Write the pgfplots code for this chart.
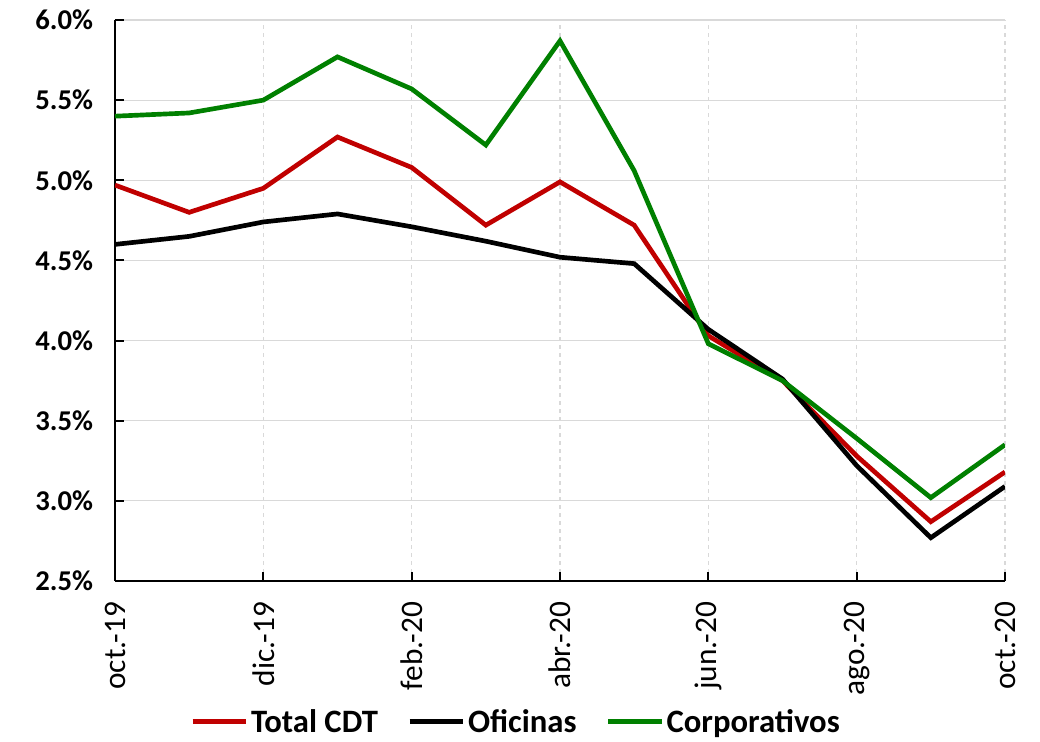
\documentclass[border=0pt]{standalone}
\usepackage{pgfplots}
\pgfplotsset{compat=1.18}
\usepackage{fontspec}
\setmainfont{Carlito}
\definecolor{cdtred}{RGB}{192,0,0}
\definecolor{cdtgreen}{RGB}{0,128,0}
\definecolor{gridgray}{RGB}{217,217,217}
\begin{document}
\begin{tikzpicture}
\useasboundingbox (-86.25pt,-120.75pt) rectangle (693.75pt,435.75pt);
\begin{axis}[
  at={(0,0)}, anchor=south west,
  scale only axis, width=667.5pt, height=420.75pt,
  xmin=0, xmax=12, ymin=2.5, ymax=6.0,
  axis lines=left, axis line style={-, line width=2pt},
  xtick={0,2,...,12},
  xticklabels={oct.-19,dic.-19,feb.-20,abr.-20,jun.-20,ago.-20,oct.-20},
  ytick={2.5,3,...,6},
  /pgf/number format/assume math mode=true,
  yticklabel={\pgfmathprintnumber[fixed,fixed zerofill,precision=1]{\tick}\%},
  tick align=inside, major tick length=7pt,
  tick style={black, line width=1.5pt},
  xticklabel shift=12pt,
  xticklabel style={rotate=90, anchor=east, font=\fontsize{23.5}{26}\selectfont},
  yticklabel style={xshift=-13pt, font=\fontsize{21.5}{24}\selectfont\bfseries},
  xmajorgrids, ymajorgrids,
  x grid style={gridgray, dashed, line width=0.8pt},
  y grid style={gridgray, line width=0.8pt},
  legend columns=3,
  legend style={at={(0.451,-0.251)}, anchor=center, draw=none,
    font=\fontsize{24.5}{27}\selectfont\bfseries,
    /tikz/every even column/.append style={column sep=20pt}},
  legend image code/.code={\draw[#1, line width=3.5pt] (0pt,0pt) -- (40pt,0pt);},
  every axis plot/.append style={line width=3.5pt},
]
\addplot[cdtred] coordinates {(0,4.97) (1,4.80) (2,4.95) (3,5.27) (4,5.08) (5,4.72) (6,4.99) (7,4.72) (8,4.03) (9,3.75) (10,3.28) (11,2.87) (12,3.18)};
\addlegendentry{Total CDT}
\addplot[black] coordinates {(0,4.60) (1,4.65) (2,4.74) (3,4.79) (4,4.71) (5,4.62) (6,4.52) (7,4.48) (8,4.07) (9,3.76) (10,3.22) (11,2.77) (12,3.09)};
\addlegendentry{Oficinas}
\addplot[cdtgreen] coordinates {(0,5.40) (1,5.42) (2,5.50) (3,5.77) (4,5.57) (5,5.22) (6,5.87) (7,5.06) (8,3.98) (9,3.75) (10,3.39) (11,3.02) (12,3.35)};
\addlegendentry{Corporativos}
\end{axis}
\end{tikzpicture}
\end{document}
